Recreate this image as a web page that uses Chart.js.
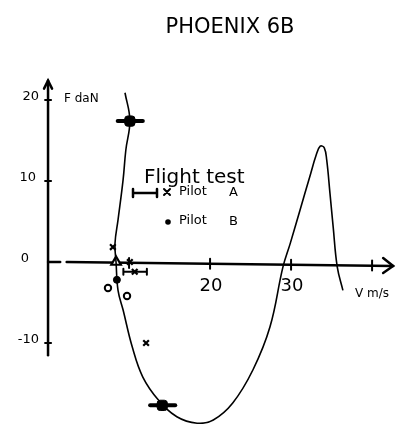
<!DOCTYPE html>
<html>
<head>
<meta charset="utf-8">
<script src="https://cdn.jsdelivr.net/npm/chart.js@4.4.0/dist/chart.umd.min.js"></script>
<style>
  html, body { margin: 0; padding: 0; background: #fff; }
</style>
</head>
<body>
<canvas id="chart" width="398" height="424"></canvas>
<script>
// hand drawn fitted curve, F (daN) against V (m/s)
const curveV = [9.5, 10.1, 9.6, 9.26, 8.64, 8.27, 8.4, 8.64, 9.26, 10.4, 11.7, 13.6, 15.9, 18.4, 20.4, 22.8, 25.3, 27.4, 29.0, 29.9, 31.1, 32.3, 33.1, 33.6, 34.1, 34.4, 34.8, 35.2, 35.7, 36.4];
const curveF = [20.9, 17.5, 13.8, 10.1, 5.2, 2.35, -0.1, -3.5, -5.9, -10.5, -14.2, -17.0, -19.1, -19.9, -19.5, -17.4, -13.3, -8.0, -0.6, 2.3, 6.4, 10.5, 13.2, 14.3, 14.1, 12.6, 8.5, 4.3, -0.6, -3.5];

// Pilot A (crosses)
const pilotAV = [8.0, 10.1, 10.7, 12.1];
const pilotAF = [1.85, 0, -1.2, -10.0];
// Pilot B (filled dots)
const pilotBV = [8.5];
const pilotBF = [-2.2];
// open circles
const openV = [7.4, 9.75];
const openF = [-3.2, -4.2];
// open triangle
const triV = [8.4];
const triF = [0];
// heavy marks with horizontal bars
const blobV = [10.1, 14.1];
const blobF = [17.4, -17.7];
const blobLo = [8.6, 12.6];
const blobHi = [11.7, 15.7];
// bar on one Pilot A point
const barV = [10.7];
const barF = [-1.2];
const barLo = [9.3];
const barHi = [12.2];

const yTicks = [20, 10, -10];
const yLabels = ['20', '10', '0', '-10'];
const yLabelVals = [20, 10, 0, -10];
const xTicks = [10, 20, 30, 40];
const xLabels = ['20', '30'];
const xLabelVals = [20, 30];

const toPts = (a, b) => a.map((v, i) => ({x: v, y: b[i]}));

const handPlugin = {
  id: 'hand',
  beforeDatasetsDraw(chart) {
    const ctx = chart.ctx;
    const X = v => chart.scales.x.getPixelForValue(v);
    const Y = v => chart.scales.y.getPixelForValue(v);
    ctx.save();
    ctx.strokeStyle = '#000';
    ctx.fillStyle = '#000';
    ctx.lineCap = 'round';

    // y axis
    ctx.lineWidth = 2.5;
    ctx.beginPath();
    ctx.moveTo(X(0), Y(-11.5));
    ctx.lineTo(X(0), Y(22.4));
    ctx.stroke();
    ctx.beginPath();
    ctx.moveTo(X(0) - 4, Y(22.4) + 8);
    ctx.lineTo(X(0), Y(22.4));
    ctx.lineTo(X(0) + 4, Y(22.4) + 8);
    ctx.stroke();

    // x axis, with small break near origin
    ctx.beginPath();
    ctx.moveTo(X(0), Y(0));
    ctx.lineTo(X(1.5), Y(0));
    ctx.moveTo(X(2.3), Y(0));
    ctx.lineTo(X(42.6), Y(0) + 4);
    ctx.stroke();
    ctx.beginPath();
    ctx.moveTo(X(42.6) - 10, Y(0) - 4);
    ctx.lineTo(X(42.6), Y(0) + 4);
    ctx.lineTo(X(42.6) - 10, Y(0) + 11);
    ctx.stroke();

    // ticks
    ctx.lineWidth = 2;
    yTicks.forEach(v => {
      ctx.beginPath();
      ctx.moveTo(X(0) - 3, Y(v));
      ctx.lineTo(X(0) + 3, Y(v));
      ctx.stroke();
    });
    xTicks.forEach(v => {
      const yy = Y(0) + v * 0.09;
      ctx.beginPath();
      ctx.moveTo(X(v), yy - 5);
      ctx.lineTo(X(v), yy + 5);
      ctx.stroke();
    });

    // tick labels
    ctx.textBaseline = 'middle';
    ctx.textAlign = 'right';
    ctx.font = '13px "DejaVu Sans"';
    yLabelVals.forEach((v, i) => {
      const off = v === 0 ? 19 : (v === 10 ? 12 : 9);
      ctx.fillText(yLabels[i], X(0) - off, Y(v) - 3);
    });
    ctx.textAlign = 'center';
    ctx.font = '18px "DejaVu Sans"';
    xLabelVals.forEach((v, i) => ctx.fillText(xLabels[i], X(v) + 1, Y(0) + 24));

    // axis names
    ctx.textAlign = 'left';
    ctx.font = '12px "DejaVu Sans"';
    ctx.fillText('F daN', 64, 99);
    ctx.fillText('V m/s', 355, 294);

    // title
    ctx.textAlign = 'center';
    ctx.font = '21px "DejaVu Sans"';
    ctx.fillText('PHOENIX 6B', 230, 28);

    // legend box text
    ctx.textAlign = 'left';
    ctx.font = '20px "DejaVu Sans"';
    ctx.fillText('Flight test', 144, 178);
    ctx.font = '13px "DejaVu Sans"';
    ctx.fillText('Pilot', 179, 192);
    ctx.fillText('A', 229, 193);
    ctx.fillText('Pilot', 179, 221);
    ctx.fillText('B', 229, 222);
    // legend symbols
    ctx.lineWidth = 2.5;
    ctx.beginPath();
    ctx.moveTo(133, 193); ctx.lineTo(157, 193);
    ctx.moveTo(133, 189); ctx.lineTo(133, 197);
    ctx.moveTo(157, 189); ctx.lineTo(157, 197);
    ctx.stroke();
    ctx.lineWidth = 2;
    ctx.beginPath();
    ctx.moveTo(164, 189); ctx.lineTo(170, 195);
    ctx.moveTo(170, 189); ctx.lineTo(164, 195);
    ctx.stroke();
    ctx.beginPath();
    ctx.arc(168, 222, 2.8, 0, Math.PI * 2);
    ctx.fill();

    // horizontal bars
    ctx.lineWidth = 4;
    blobV.forEach((v, i) => {
      ctx.beginPath();
      ctx.moveTo(X(blobLo[i]), Y(blobF[i]));
      ctx.lineTo(X(blobHi[i]), Y(blobF[i]));
      ctx.stroke();
    });
    ctx.lineWidth = 2;
    barV.forEach((v, i) => {
      ctx.beginPath();
      ctx.moveTo(X(barLo[i]), Y(barF[i]));
      ctx.lineTo(X(barHi[i]), Y(barF[i]));
      ctx.moveTo(X(barLo[i]), Y(barF[i]) - 3);
      ctx.lineTo(X(barLo[i]), Y(barF[i]) + 3);
      ctx.moveTo(X(barHi[i]), Y(barF[i]) - 3);
      ctx.lineTo(X(barHi[i]), Y(barF[i]) + 3);
      ctx.stroke();
    });
    ctx.restore();
  }
};

new Chart(document.getElementById('chart'), {
  type: 'scatter',
  data: {
    datasets: [
      {
        label: 'curve',
        data: toPts(curveV, curveF),
        showLine: true,
        tension: 0.4,
        borderColor: '#000',
        borderWidth: 1.6,
        pointRadius: 0
      },
      {
        label: 'Pilot A',
        data: toPts(pilotAV, pilotAF),
        pointStyle: 'crossRot',
        pointRadius: 4,
        borderColor: '#000',
        borderWidth: 2.2
      },
      {
        label: 'Pilot B',
        data: toPts(pilotBV, pilotBF),
        pointStyle: 'circle',
        pointRadius: 3.5,
        backgroundColor: '#000',
        borderColor: '#000'
      },
      {
        label: 'open',
        data: toPts(openV, openF),
        pointStyle: 'circle',
        pointRadius: 3.2,
        backgroundColor: '#fff',
        borderColor: '#000',
        borderWidth: 2
      },
      {
        label: 'triangle',
        data: toPts(triV, triF),
        pointStyle: 'triangle',
        pointRadius: 5.5,
        backgroundColor: '#fff',
        borderColor: '#000',
        borderWidth: 2.2
      },
      {
        label: 'blob',
        data: toPts(blobV, blobF),
        pointStyle: 'rectRounded',
        pointRadius: 6,
        backgroundColor: '#000',
        borderColor: '#000'
      }
    ]
  },
  options: {
    responsive: false,
    animation: false,
    layout: { padding: 0, autoPadding: false },
    plugins: { legend: { display: false }, tooltip: { enabled: false }, title: { display: false } },
    scales: {
      x: { type: 'linear', display: false, min: -5.93, max: 43.2 },
      y: { type: 'linear', display: false, min: -20.0, max: 32.35 }
    }
  },
  plugins: [handPlugin]
});
</script>
</body>
</html>
